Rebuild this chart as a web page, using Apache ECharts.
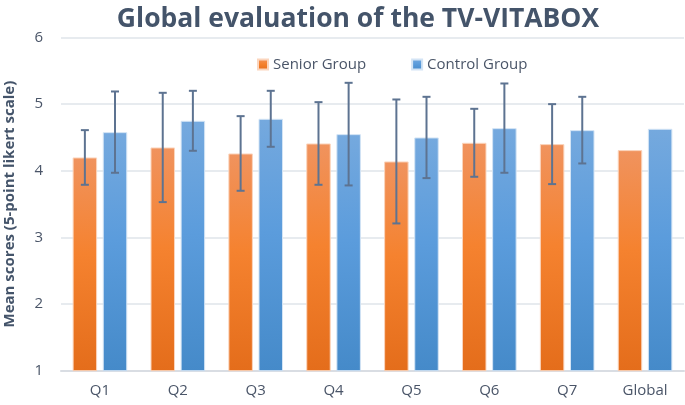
<!DOCTYPE html>
<html>
<head>
<meta charset="utf-8">
<script src="https://cdn.jsdelivr.net/npm/echarts@6/dist/echarts.min.js"></script>
<style>
  html, body { margin: 0; padding: 0; background: #fff; }
  #chart { width: 685px; height: 405px; }
</style>
</head>
<body>
<div id="chart"></div>
<script>
const categories = ['Q1', 'Q2', 'Q3', 'Q4', 'Q5', 'Q6', 'Q7', 'Global']
const seniorMean = [4.20, 4.35, 4.26, 4.41, 4.14, 4.42, 4.40, 4.31]
const seniorSd = [0.41, 0.82, 0.56, 0.62, 0.93, 0.51, 0.60, null]
const controlMean = [4.58, 4.75, 4.78, 4.55, 4.50, 4.64, 4.61, 4.63]
const controlSd = [0.61, 0.45, 0.42, 0.77, 0.61, 0.67, 0.50, null]

const BAR_W = 24.5
const BAR_GAP = 0.23
const shift = (BAR_W + BAR_W * BAR_GAP) / 2

const chart = echarts.init(document.getElementById('chart'))

function grad(top, mid, bottom) {
  return new echarts.graphic.LinearGradient(0, 0, 0, 1, [
    { offset: 0, color: top },
    { offset: 0.45, color: mid },
    { offset: 1, color: bottom }
  ])
}

// error bars drawn as custom series, shifted onto the bar of its group
function errorSeries(mean, sd, dx) {
  const data = []
  mean.forEach((m, i) => {
    if (sd[i] != null) data.push([i, m - sd[i], m + sd[i]])
  })
  return {
    type: 'custom',
    z: 10,
    silent: true,
    data: data,
    encode: { x: 0, y: [1, 2] },
    renderItem: function (params, api) {
      const lo = api.coord([api.value(0), api.value(1)])
      const hi = api.coord([api.value(0), api.value(2)])
      const x = lo[0] + dx
      const cap = 4
      const style = { stroke: '#5d7391', lineWidth: 2 }
      return {
        type: 'group',
        children: [
          { type: 'line', shape: { x1: x, y1: lo[1], x2: x, y2: hi[1] }, style: style },
          { type: 'line', shape: { x1: x - cap, y1: lo[1], x2: x + cap, y2: lo[1] }, style: style },
          { type: 'line', shape: { x1: x - cap, y1: hi[1], x2: x + cap, y2: hi[1] }, style: style }
        ]
      }
    }
  }
}

const option = {
  animation: false,
  title: {
    text: 'Global evaluation of the TV-VITABOX',
    left: 353,
    textAlign: 'center',
    top: 1,
    textStyle: {
      fontFamily: 'Open Sans',
      fontWeight: 'bold',
      fontSize: 26.5,
      color: '#44546a'
    }
  },
  legend: {
    top: 57,
    left: 257,
    padding: 0,
    itemWidth: 10,
    itemHeight: 10,
    itemGap: 45,
    icon: 'rect',
    textStyle: { fontFamily: 'Open Sans', fontSize: 15, color: '#4a5568', padding: [0, 0, 0, 0] },
    data: ['Senior Group', 'Control Group']
  },
  grid: { left: 61, right: 1, top: 37.5, bottom: 34.3, outerBoundsMode: 'none' },
  xAxis: {
    type: 'category',
    data: categories,
    axisTick: { show: false },
    axisLine: { lineStyle: { color: '#d9dde3', width: 2 } },
    axisLabel: { fontFamily: 'Open Sans', fontSize: 15, color: '#4a5568', margin: 13 }
  },
  yAxis: {
    type: 'value',
    min: 1,
    max: 6,
    interval: 1,
    name: 'Mean scores (5-point likert scale)',
    nameLocation: 'middle',
    nameGap: 44,
    nameTextStyle: { fontFamily: 'Open Sans', fontWeight: 'bold', fontSize: 15, color: '#44546a' },
    axisLine: { show: false },
    axisTick: { show: false },
    axisLabel: { fontFamily: 'Open Sans', fontSize: 15, color: '#4a5568', margin: 18 },
    splitLine: { lineStyle: { color: '#dfe4ea', width: 1.5 } }
  },
  series: [
    {
      name: 'Senior Group',
      type: 'bar',
      data: seniorMean,
      barWidth: BAR_W,
      barGap: (BAR_GAP * 100) + '%',
      itemStyle: {
        color: grad('#f0935e', '#f5822f', '#e46d1b'),
        borderColor: '#fbd5bd',
        borderWidth: 1
      }
    },
    {
      name: 'Control Group',
      type: 'bar',
      data: controlMean,
      barWidth: BAR_W,
      barGap: (BAR_GAP * 100) + '%',
      itemStyle: {
        color: grad('#75a9de', '#5b9cdc', '#458ac9'),
        borderColor: '#d3e4f5',
        borderWidth: 1
      }
    },
    errorSeries(seniorMean, seniorSd, -shift),
    errorSeries(controlMean, controlSd, shift)
  ]
}

chart.setOption(option)
</script>
</body>
</html>
